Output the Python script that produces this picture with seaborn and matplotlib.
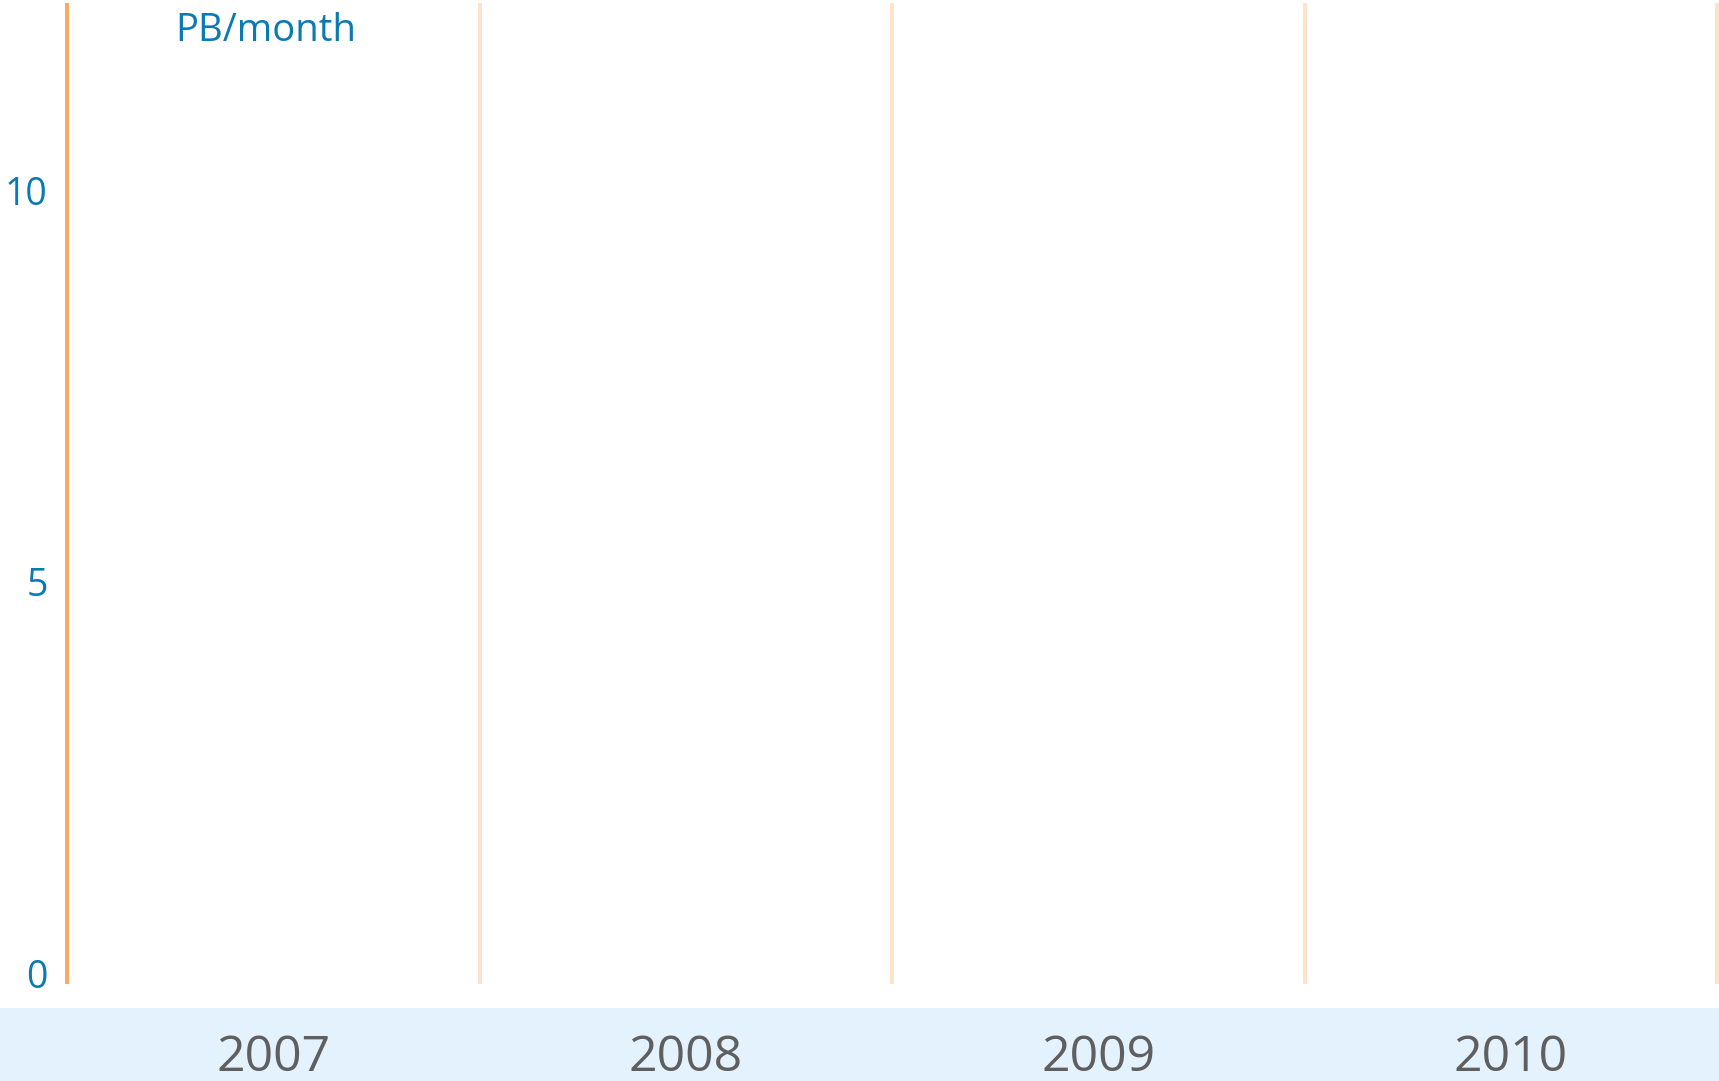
import matplotlib
matplotlib.use("Agg")
import matplotlib.pyplot as plt
import matplotlib.transforms as mtransforms
from matplotlib.patches import Rectangle
import seaborn as sns
import pandas as pd

# Data
years = ["2007", "2008", "2009", "2010"]
y_ticks = [0, 5, 10]
y_unit = "PB/month"

sns.set_theme(style="white")
plt.rcParams["font.family"] = ["Open Sans", "DejaVu Sans"]

W, H = 1719, 1081
fig = plt.figure(figsize=(W / 100, H / 100), dpi=100)
fig.patch.set_facecolor("white")

# bottom band
fig.add_artist(Rectangle((0, 0), 1, 73 / H, transform=fig.transFigure,
                         facecolor="#E3F2FD", edgecolor="none", zorder=0))

left, right, top, bottom = 67, 1717, 3, 984
ax = fig.add_axes([left / W, (H - bottom) / H, (right - left) / W, (bottom - top) / H])
ax.set_facecolor("white")

df = pd.DataFrame({"year": years, "pos": range(len(years))})
ax.set_xlim(0, len(years))
ax.set_ylim(-0.14, 12.39)

for side in ["top", "right", "bottom", "left"]:
    ax.spines[side].set_visible(False)

lw = 4 * 72 / 100
for i in range(len(years) + 1):
    ax.axvline(i, color="#FFA866" if i == 0 else "#FFE2CA", lw=lw, zorder=2,
               clip_on=False, solid_capstyle="butt")

ax.set_yticks(y_ticks)
ax.set_yticklabels([str(t) for t in y_ticks], color="#0A7AB5", fontsize=27)
ax.tick_params(axis="y", length=0, pad=14)
ax.set_xticks([])
ax.grid(False)

trans = mtransforms.blended_transform_factory(ax.transData, fig.transFigure)
for p, yr in zip(df["pos"], df["year"]):
    ax.text(p + 0.5, 23 / H, yr, transform=trans, ha="center", va="center",
            fontsize=36, color="#5F5F5F", clip_on=False)

fig.text(175 / W, 1 - 31 / H, y_unit, ha="left", va="center",
         fontsize=27.5, color="#0A7AB5")

fig.savefig("out.png", dpi=100)
